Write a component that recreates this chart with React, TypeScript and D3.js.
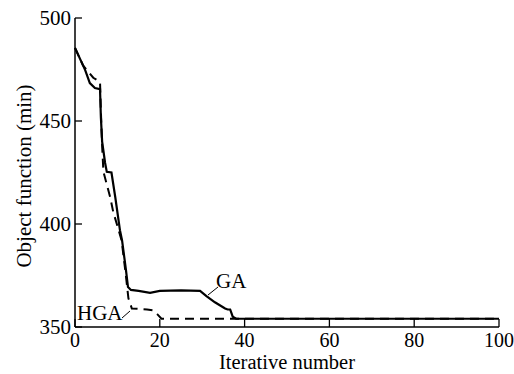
import React, { useEffect, useRef } from 'react';
import * as d3 from 'd3';

// GA curve (solid)
const gaX = [0, 1, 2.4, 3.5, 4.7, 5.9, 6.1, 6.4, 7.1, 7.5, 8.6, 9.5, 10.6, 11.1, 12, 12.5, 13.2, 15, 17.7, 20, 25, 29.5, 31, 33, 35.4, 36, 36.6, 37.2, 38, 100];
const gaY = [485.5, 481, 474.7, 468.4, 466, 465.5, 452, 440, 429.6, 425.3, 425, 413, 397, 392, 378, 369.4, 368, 367.5, 366.6, 367.5, 367.8, 367.5, 365, 362, 359, 358.5, 358.5, 355, 354, 354];

// HGA curve (dashed)
const hgaX = [0, 1.9, 3.1, 4.3, 5.9, 6.1, 6.4, 6.7, 8.3, 9, 11, 12, 12.6, 13, 13.4, 15, 17, 18.5, 19.5, 20.4, 100];
const hgaY = [485.5, 477, 474, 471, 469, 455, 438, 425.4, 413, 406, 392, 375, 363.9, 361.6, 359, 358.8, 358.5, 358, 356, 354, 354];

const xTicks = [0, 20, 40, 60, 80, 100];
const yTicks = [350, 400, 450, 500];

const W = 514;
const H = 374;

const App = () => {
  const ref = useRef<SVGSVGElement>(null);

  useEffect(() => {
    const svg = d3.select(ref.current);
    svg.selectAll('*').remove();

    const x = d3.scaleLinear().domain([0, 100]).range([75, 499]);
    const y = d3.scaleLinear().domain([350, 500]).range([327, 18]);

    const font = 'Liberation Serif, Times New Roman, serif';
    const g = svg.append('g');

    // axes lines
    g.append('line').attr('x1', x(0)).attr('x2', x(100)).attr('y1', y(350)).attr('y2', y(350))
      .attr('stroke', '#000').attr('stroke-width', 1.5);
    g.append('line').attr('x1', x(0)).attr('x2', x(0)).attr('y1', y(350)).attr('y2', y(500))
      .attr('stroke', '#000').attr('stroke-width', 1.5);

    // x ticks (inward)
    xTicks.forEach(t => {
      g.append('line').attr('x1', x(t)).attr('x2', x(t)).attr('y1', y(350)).attr('y2', y(350) - 8)
        .attr('stroke', '#000').attr('stroke-width', 1.3);
      g.append('text').attr('x', x(t)).attr('y', 346.5).attr('text-anchor', 'middle')
        .attr('font-family', font).attr('font-size', 20).text(t);
    });

    // y ticks (inward)
    yTicks.forEach(t => {
      g.append('line').attr('x1', x(0)).attr('x2', x(0) + 7).attr('y1', y(t)).attr('y2', y(t))
        .attr('stroke', '#000').attr('stroke-width', 1.3);
      g.append('text').attr('x', 71).attr('y', y(t)).attr('dy', '0.35em').attr('text-anchor', 'end')
        .attr('font-family', font).attr('font-size', 21).text(t);
    });

    // axis titles
    g.append('text').attr('x', 287).attr('y', 369).attr('text-anchor', 'middle')
      .attr('font-family', font).attr('font-size', 20.5).text('Iterative number');
    g.append('text').attr('transform', 'translate(31,176) rotate(-90)').attr('text-anchor', 'middle')
      .attr('font-family', font).attr('font-size', 21).text('Object function (min)');

    const line = d3.line<[number, number]>().x(d => x(d[0])).y(d => y(d[1]));

    const hga = hgaX.map((v, i) => [v, hgaY[i]] as [number, number]);
    const ga = gaX.map((v, i) => [v, gaY[i]] as [number, number]);

    g.append('path').attr('d', line(hga)).attr('fill', 'none').attr('stroke', '#000')
      .attr('stroke-width', 2).attr('stroke-dasharray', '9,6');
    g.append('path').attr('d', line(ga)).attr('fill', 'none').attr('stroke', '#000')
      .attr('stroke-width', 2.2);

    // labels with leader lines
    g.append('line').attr('x1', 208).attr('y1', 295).attr('x2', 218).attr('y2', 287)
      .attr('stroke', '#000').attr('stroke-width', 1);
    g.append('text').attr('x', 216).attr('y', 288).attr('font-family', font).attr('font-size', 21).text('GA');

    g.append('line').attr('x1', 122).attr('y1', 318).attr('x2', 130).attr('y2', 311)
      .attr('stroke', '#000').attr('stroke-width', 1);
    g.append('text').attr('x', 77).attr('y', 320).attr('font-family', font).attr('font-size', 21).text('HGA');
  }, []);

  return (
    <div style={{ position: 'absolute', left: 0, top: 0 }}>
      <svg ref={ref} width={W} height={H} style={{ display: 'block', background: '#fff' }} />
    </div>
  );
};

export default App;
